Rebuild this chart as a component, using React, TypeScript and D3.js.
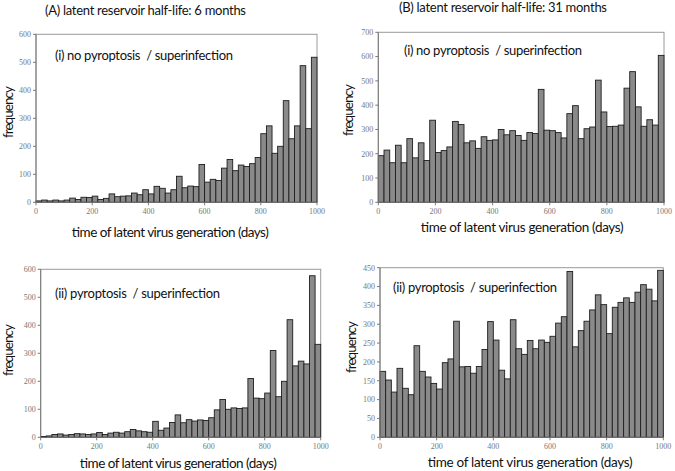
import * as d3 from 'd3';

// bin starts (days), 20-day bins
const binStarts = d3.range(0, 1000, 20);
const xTicks = [0, 200, 400, 600, 800, 1000];

// (A)(i) half-life 6 months, no pyroptosis
const freqA1 = [
  5, 8, 5, 8, 5, 8, 15, 10, 18, 17,
  22, 10, 14, 30, 20, 22, 23, 33, 27, 45,
  30, 57, 50, 33, 45, 93, 52, 58, 56, 135,
  72, 82, 78, 122, 153, 113, 133, 128, 138, 160,
  245, 273, 175, 200, 363, 227, 273, 488, 263, 518,
];
// (B)(i) half-life 31 months, no pyroptosis
const freqB1 = [
  192, 215, 163, 235, 163, 262, 183, 245, 172, 338,
  205, 213, 228, 333, 320, 245, 253, 222, 270, 255,
  257, 300, 278, 295, 275, 255, 287, 283, 465, 297,
  295, 287, 265, 365, 398, 262, 303, 310, 503, 372,
  312, 313, 318, 470, 538, 393, 313, 340, 318, 605,
];
// (A)(ii) half-life 6 months, pyroptosis
const freqA2 = [
  3, 5, 10, 12, 8, 10, 13, 12, 10, 12,
  17, 10, 15, 18, 15, 20, 28, 23, 20, 18,
  57, 25, 33, 53, 80, 52, 63, 58, 62, 60,
  70, 98, 135, 100, 105, 103, 105, 210, 140, 138,
  158, 310, 145, 200, 420, 255, 272, 262, 577, 332,
];
// (B)(ii) half-life 31 months, pyroptosis
const freqB2 = [
  175, 152, 120, 183, 130, 113, 243, 175, 160, 143,
  128, 198, 208, 308, 187, 188, 170, 188, 233, 307,
  258, 178, 155, 312, 235, 220, 257, 235, 258, 252,
  268, 303, 320, 440, 240, 283, 308, 338, 378, 352,
  275, 345, 358, 370, 358, 385, 405, 393, 362, 443,
];

const yTicksA1 = [0, 100, 200, 300, 400, 500, 600];
const yTicksB1 = [0, 100, 200, 300, 400, 500, 600, 700];
const yTicksA2 = [0, 100, 200, 300, 400, 500, 600];
const yTicksB2 = [0, 50, 100, 150, 200, 250, 300, 350, 400, 450];

const titles = [
  '(A) latent reservoir half-life: 6 months',
  '(B) latent reservoir half-life: 31 months',
];
const labelNoPyro = '(i) no pyroptosis  / superinfection';
const labelPyro = '(ii) pyroptosis  / superinfection';
const xTitle = 'time of latent virus generation (days)';
const yTitle = 'frequency';

const FONT = 'Lato, "Open Sans", sans-serif';
const TICK_FONT = '"Liberation Serif", serif';

interface PanelProps {
  values: number[];
  yTicks: number[];
  left: number;
  right: number;
  top: number;
  bottom: number;
  label: string;
  labelX: number;
  labelY: number;
  labelW: number;
  yLabX: number;
  yLabY: number;
  xLabX: number;
  xLabY: number;
  xLabW: number;
}

const Panel = (p: PanelProps) => {
  const x = d3.scaleLinear().domain([0, 1000]).range([p.left, p.right]);
  const y = d3
    .scaleLinear()
    .domain([0, d3.max(p.yTicks) ?? 0])
    .range([p.bottom, p.top]);

  return (
    <g>
      {/* frame */}
      <rect
        x={p.left}
        y={p.top}
        width={p.right - p.left}
        height={p.bottom - p.top}
        fill='none'
        stroke='#9a9a9a'
        strokeWidth={1}
      />
      {p.values.map((v, i) => (
        <rect
          key={i}
          x={x(binStarts[i])}
          y={y(v)}
          width={x(binStarts[i] + 20) - x(binStarts[i])}
          height={y(0) - y(v)}
          fill='#8a8a8a'
          stroke='#1e1e1e'
          strokeWidth={0.9}
        />
      ))}
      {/* axes */}
      <line x1={p.left} x2={p.left} y1={p.top} y2={p.bottom} stroke='#7a7a7a' />
      <line x1={p.left} x2={p.right} y1={p.bottom} y2={p.bottom} stroke='#7a7a7a' />
      {p.yTicks.map((t) => (
        <g key={t}>
          <line x1={p.left - 3} x2={p.left} y1={y(t)} y2={y(t)} stroke='#7a7a7a' />
          <text
            x={p.left - 5}
            y={y(t) + 2.8}
            textAnchor='end'
            fontSize={8}
            fill='#777'
            fontFamily={TICK_FONT}
          >
            {t}
          </text>
        </g>
      ))}
      {xTicks.map((t) => (
        <g key={t}>
          <line x1={x(t)} x2={x(t)} y1={p.bottom} y2={p.bottom + 3} stroke='#7a7a7a' />
          <text
            x={x(t)}
            y={p.bottom + 12}
            textAnchor='middle'
            fontSize={8}
            fill='#777'
            fontFamily={TICK_FONT}
          >
            {t}
          </text>
        </g>
      ))}
      <text
        x={p.labelX}
        y={p.labelY}
        fontSize={13}
        fontFamily={FONT}
        fill='#111'
        textLength={p.labelW}
        style={{ whiteSpace: 'pre' }}
      >
        {p.label}
      </text>
      <text
        transform={`translate(${p.yLabX},${p.yLabY}) rotate(-90)`}
        textAnchor='middle'
        fontSize={13.5}
        fontFamily={FONT}
        fill='#111'
        textLength={52}
      >
        {yTitle}
      </text>
      <text
        x={p.xLabX}
        y={p.xLabY}
        textAnchor='middle'
        fontSize={13.5}
        fontFamily={FONT}
        fill='#111'
        textLength={p.xLabW}
      >
        {xTitle}
      </text>
    </g>
  );
};

const App = () => {
  return (
    <svg
      width={675}
      height={471}
      viewBox='0 0 675 471'
      style={{ position: 'fixed', left: 0, top: 0, background: '#fff' }}
    >
      <rect width={675} height={471} fill='#fff' />
      <text x={45} y={15} fontSize={13} fontFamily={FONT} fill='#111' textLength={201}>
        {titles[0]}
      </text>
      <text x={399} y={12} fontSize={13} fontFamily={FONT} fill='#111' textLength={208}>
        {titles[1]}
      </text>
      <Panel
        values={freqA1}
        yTicks={yTicksA1}
        left={36}
        right={317}
        top={34.3}
        bottom={202.3}
        label={labelNoPyro}
        labelX={55}
        labelY={59.5}
        labelW={178}
        yLabX={13}
        yLabY={112}
        xLabX={170}
        xLabY={237}
        xLabW={197}
      />
      <Panel
        values={freqB1}
        yTicks={yTicksB1}
        left={378.3}
        right={664}
        top={32.3}
        bottom={202.3}
        label={labelNoPyro}
        labelX={404}
        labelY={54.5}
        labelW={178}
        yLabX={353}
        yLabY={110}
        xLabX={522}
        xLabY={232}
        xLabW={203}
      />
      <Panel
        values={freqA2}
        yTicks={yTicksA2}
        left={40.7}
        right={320.7}
        top={269.3}
        bottom={437.3}
        label={labelPyro}
        labelX={55}
        labelY={297.5}
        labelW={165}
        yLabX={13}
        yLabY={350}
        xLabX={178}
        xLabY={468}
        xLabW={197}
      />
      <Panel
        values={freqB2}
        yTicks={yTicksB2}
        left={380}
        right={663.3}
        top={267.7}
        bottom={437.3}
        label={labelPyro}
        labelX={393}
        labelY={292}
        labelW={164}
        yLabX={356}
        yLabY={347}
        xLabX={530}
        xLabY={467}
        xLabW={205}
      />
    </svg>
  );
};

export default App;
